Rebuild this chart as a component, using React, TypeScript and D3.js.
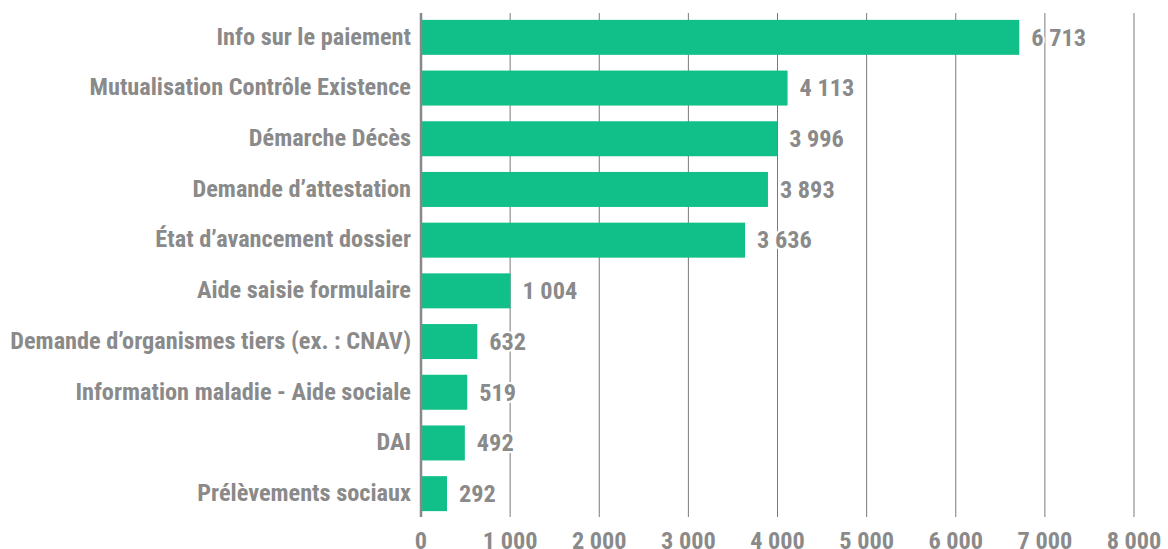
import React from "react";
import * as d3 from "d3";

const categories = [
  "Info sur le paiement",
  "Mutualisation Contrôle Existence",
  "Démarche Décès",
  "Demande d’attestation",
  "État d’avancement dossier",
  "Aide saisie formulaire",
  "Demande d’organismes tiers (ex. : CNAV)",
  "Information maladie - Aide sociale",
  "DAI",
  "Prélèvements sociaux",
];
const values = [6713, 4113, 3996, 3893, 3636, 1004, 632, 519, 492, 292];
const ticks = [0, 1000, 2000, 3000, 4000, 5000, 6000, 7000, 8000];

const W = 1168;
const H = 549;
const FONT = "'Liberation Sans Narrow', 'Roboto Condensed', 'Liberation Sans', Arial, sans-serif";
const GRAY = "#8a8a8a";
const GREEN = "#10c088";

const fmt = (v: number) => {
  const s = String(v);
  return s.replace(/\B(?=(\d{3})+(?!\d))/g, " ");
};

export default function App() {
  const x = d3.scaleLinear().domain([0, 8000]).range([421, 1134]);
  const y = d3.scaleBand<string>().domain(categories).range([12, 519]).paddingInner(0.31).paddingOuter(0.155);
  const fs = 24.3;
  return (
    <svg width={W} height={H} style={{ position: "fixed", left: 0, top: 0, background: "#fff" }} fontFamily={FONT}>
      {ticks.slice(1).map((t) => (
        <line key={t} x1={x(t)} x2={x(t)} y1={13} y2={517} stroke="#7a7a7a" strokeWidth={1} />
      ))}
      {categories.map((c, i) => (
        <rect key={c} x={x(0)} y={y(c)} width={x(values[i]) - x(0)} height={y.bandwidth()} fill={GREEN} />
      ))}
      <line x1={x(0)} x2={x(0)} y1={13} y2={517} stroke="#888" strokeWidth={2.5} />
      {categories.map((c, i) => {
        const cy = (y(c) as number) + y.bandwidth() / 2;
        const lx = x(values[i]) + 12;
        return (
          <g key={"v" + c}>
            <text
              x={lx}
              y={cy}
              dy="0.34em"
              fontSize={fs}
              fontWeight="bold"
              fill={GRAY}
              stroke="#fff"
              strokeWidth={4}
              strokeLinejoin="round"
              paintOrder="stroke"
            >
              {fmt(values[i])}
            </text>
          </g>
        );
      })}
      {categories.map((c) => (
        <text
          key={"c" + c}
          x={411}
          y={(y(c) as number) + y.bandwidth() / 2}
          dy="0.3em"
          textAnchor="end"
          fontSize={fs}
          fontWeight="bold"
          fill={GRAY}
        >
          {c}
        </text>
      ))}
      {ticks.map((t) => (
        <text key={"t" + t} x={x(t)} y={549} textAnchor="middle" fontSize={fs} fontWeight="bold" fill={GRAY}>
          {fmt(t)}
        </text>
      ))}
    </svg>
  );
}
